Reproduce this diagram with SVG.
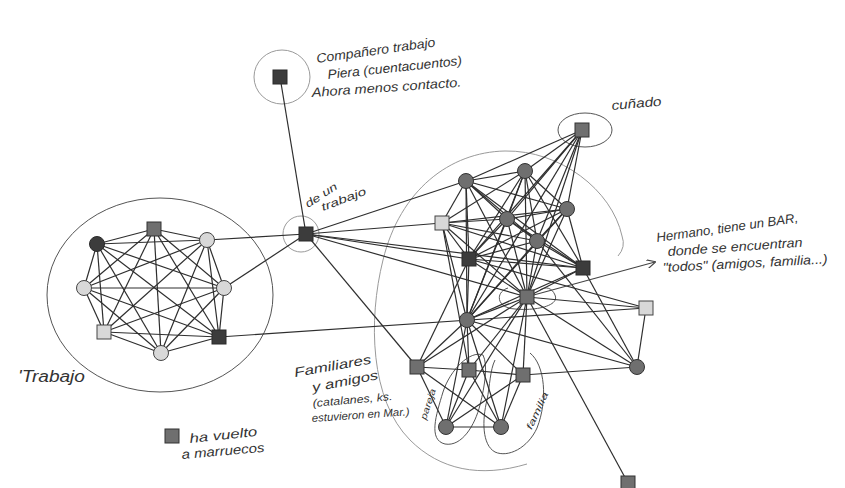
<svg xmlns="http://www.w3.org/2000/svg" width="845" height="488" viewBox="0 0 845 488">
<style>
.e{stroke:#2e2e2e;stroke-width:1.2;fill:none}
.g{stroke:#9a9a9a;stroke-width:1;fill:none}
.p{stroke:#555;stroke-width:1;fill:none}
.dk{fill:#3c3c3c;stroke:#2a2a2a;stroke-width:1}
.md{fill:#6f6f6f;stroke:#333;stroke-width:1}
.lt{fill:#d8d8d8;stroke:#444;stroke-width:1}
text{font-family:"Liberation Sans",Arial,sans-serif;font-style:italic;fill:#333}
</style>
<defs>
<marker id="ah" viewBox="0 0 10 10" refX="9" refY="5" markerWidth="9" markerHeight="9" orient="auto" markerUnits="userSpaceOnUse">
<path d="M0,0 L10,5 L0,10" fill="none" stroke="#444" stroke-width="1.3"/>
</marker>
</defs>
<rect width="845" height="488" fill="#fff"/>

<g id="groups">
<ellipse class="p" cx="160" cy="295" rx="113" ry="97"/>
<ellipse class="g" cx="282" cy="77" rx="28" ry="27"/>
<circle class="g" cx="301" cy="234" r="18"/>
<ellipse class="p" cx="585" cy="130" rx="27" ry="17"/>
<path class="g" d="M618,256 Q626,247 622,236 C612,190 560,150 505,151 C450,152 400,190 383,260 C368,320 370,400 410,440 C440,470 480,478 527,464"/>
<path class="p" d="M508,288 C495,292 496,308 515,309 C535,311 560,306 555,295 C552,288 546,286 540,290"/>
<path class="p" d="M483,355 C470,350 450,370 443,392 C436,415 428,440 445,444 C462,447 475,425 480,405 C485,385 488,365 483,355"/>
<path class="p" d="M530,353 C545,365 548,400 537,428 C528,448 508,458 495,452 C482,445 482,420 487,400 C490,385 490,370 495,360"/>
</g>

<g id="connectors">
<line class="e" x1="97" y1="244" x2="154" y2="229"/>
<line class="e" x1="97" y1="244" x2="207" y2="240"/>
<line class="e" x1="97" y1="244" x2="84" y2="288"/>
<line class="e" x1="97" y1="244" x2="224" y2="288"/>
<line class="e" x1="97" y1="244" x2="104" y2="332"/>
<line class="e" x1="97" y1="244" x2="161" y2="353"/>
<line class="e" x1="97" y1="244" x2="219" y2="337"/>
<line class="e" x1="154" y1="229" x2="207" y2="240"/>
<line class="e" x1="154" y1="229" x2="84" y2="288"/>
<line class="e" x1="154" y1="229" x2="224" y2="288"/>
<line class="e" x1="154" y1="229" x2="104" y2="332"/>
<line class="e" x1="154" y1="229" x2="161" y2="353"/>
<line class="e" x1="154" y1="229" x2="219" y2="337"/>
<line class="e" x1="207" y1="240" x2="84" y2="288"/>
<line class="e" x1="207" y1="240" x2="224" y2="288"/>
<line class="e" x1="207" y1="240" x2="104" y2="332"/>
<line class="e" x1="207" y1="240" x2="161" y2="353"/>
<line class="e" x1="207" y1="240" x2="219" y2="337"/>
<line class="e" x1="84" y1="288" x2="224" y2="288"/>
<line class="e" x1="84" y1="288" x2="104" y2="332"/>
<line class="e" x1="84" y1="288" x2="161" y2="353"/>
<line class="e" x1="84" y1="288" x2="219" y2="337"/>
<line class="e" x1="224" y1="288" x2="104" y2="332"/>
<line class="e" x1="224" y1="288" x2="161" y2="353"/>
<line class="e" x1="224" y1="288" x2="219" y2="337"/>
<line class="e" x1="104" y1="332" x2="161" y2="353"/>
<line class="e" x1="104" y1="332" x2="219" y2="337"/>
<line class="e" x1="161" y1="353" x2="219" y2="337"/>

<line class="e" x1="280" y1="77" x2="306" y2="234"/>
<line class="e" x1="207" y1="240" x2="306" y2="234"/>
<line class="e" x1="224" y1="288" x2="306" y2="234"/>
<line class="e" x1="306" y1="234" x2="466" y2="181"/>
<line class="e" x1="306" y1="234" x2="442" y2="223"/>
<line class="e" x1="306" y1="234" x2="469" y2="259"/>
<line class="e" x1="306" y1="234" x2="583" y2="268"/>
<line class="e" x1="306" y1="234" x2="527" y2="297"/>
<line class="e" x1="306" y1="234" x2="417" y2="367"/>
<line class="e" x1="219" y1="337" x2="646" y2="308"/>

<line class="e" x1="466" y1="181" x2="525" y2="171"/>
<line class="e" x1="466" y1="181" x2="442" y2="223"/>
<line class="e" x1="466" y1="181" x2="507" y2="219"/>
<line class="e" x1="466" y1="181" x2="567" y2="209"/>
<line class="e" x1="466" y1="181" x2="537" y2="241"/>
<line class="e" x1="466" y1="181" x2="469" y2="259"/>
<line class="e" x1="466" y1="181" x2="583" y2="268"/>
<line class="e" x1="466" y1="181" x2="527" y2="297"/>
<line class="e" x1="466" y1="181" x2="467" y2="320"/>
<line class="e" x1="525" y1="171" x2="442" y2="223"/>
<line class="e" x1="525" y1="171" x2="507" y2="219"/>
<line class="e" x1="525" y1="171" x2="567" y2="209"/>
<line class="e" x1="525" y1="171" x2="537" y2="241"/>
<line class="e" x1="525" y1="171" x2="469" y2="259"/>
<line class="e" x1="525" y1="171" x2="583" y2="268"/>
<line class="e" x1="525" y1="171" x2="527" y2="297"/>
<line class="e" x1="525" y1="171" x2="467" y2="320"/>
<line class="e" x1="442" y1="223" x2="507" y2="219"/>
<line class="e" x1="442" y1="223" x2="567" y2="209"/>
<line class="e" x1="442" y1="223" x2="537" y2="241"/>
<line class="e" x1="442" y1="223" x2="469" y2="259"/>
<line class="e" x1="442" y1="223" x2="583" y2="268"/>
<line class="e" x1="442" y1="223" x2="527" y2="297"/>
<line class="e" x1="442" y1="223" x2="467" y2="320"/>
<line class="e" x1="507" y1="219" x2="567" y2="209"/>
<line class="e" x1="507" y1="219" x2="537" y2="241"/>
<line class="e" x1="507" y1="219" x2="469" y2="259"/>
<line class="e" x1="507" y1="219" x2="583" y2="268"/>
<line class="e" x1="507" y1="219" x2="527" y2="297"/>
<line class="e" x1="507" y1="219" x2="467" y2="320"/>
<line class="e" x1="567" y1="209" x2="537" y2="241"/>
<line class="e" x1="567" y1="209" x2="469" y2="259"/>
<line class="e" x1="567" y1="209" x2="583" y2="268"/>
<line class="e" x1="567" y1="209" x2="527" y2="297"/>
<line class="e" x1="567" y1="209" x2="467" y2="320"/>
<line class="e" x1="537" y1="241" x2="469" y2="259"/>
<line class="e" x1="537" y1="241" x2="583" y2="268"/>
<line class="e" x1="537" y1="241" x2="527" y2="297"/>
<line class="e" x1="537" y1="241" x2="467" y2="320"/>
<line class="e" x1="469" y1="259" x2="583" y2="268"/>
<line class="e" x1="469" y1="259" x2="527" y2="297"/>
<line class="e" x1="469" y1="259" x2="467" y2="320"/>
<line class="e" x1="583" y1="268" x2="527" y2="297"/>
<line class="e" x1="583" y1="268" x2="467" y2="320"/>
<line class="e" x1="527" y1="297" x2="467" y2="320"/>

<line class="e" x1="582" y1="130" x2="466" y2="181"/>
<line class="e" x1="582" y1="130" x2="525" y2="171"/>
<line class="e" x1="582" y1="130" x2="507" y2="219"/>
<line class="e" x1="582" y1="130" x2="567" y2="209"/>
<line class="e" x1="582" y1="130" x2="537" y2="241"/>
<line class="e" x1="582" y1="130" x2="469" y2="259"/>
<line class="e" x1="582" y1="130" x2="527" y2="297"/>
<line class="e" x1="582" y1="130" x2="467" y2="320"/>

<line class="e" x1="583" y1="268" x2="637" y2="367"/>
<line class="e" x1="537" y1="241" x2="637" y2="367"/>
<line class="e" x1="469" y1="259" x2="646" y2="308"/>
<line class="e" x1="527" y1="297" x2="646" y2="308"/>
<line class="e" x1="527" y1="297" x2="637" y2="367"/>
<line class="e" x1="527" y1="297" x2="628" y2="483"/>
<line class="e" x1="527" y1="297" x2="417" y2="367"/>
<line class="e" x1="527" y1="297" x2="469" y2="370"/>
<line class="e" x1="527" y1="297" x2="523" y2="375"/>
<line class="e" x1="527" y1="297" x2="446" y2="427"/>
<line class="e" x1="527" y1="297" x2="501" y2="427"/>
<line class="e" x1="467" y1="320" x2="637" y2="367"/>
<line class="e" x1="467" y1="320" x2="417" y2="367"/>
<line class="e" x1="467" y1="320" x2="469" y2="370"/>
<line class="e" x1="467" y1="320" x2="523" y2="375"/>
<line class="e" x1="467" y1="320" x2="446" y2="427"/>
<line class="e" x1="467" y1="320" x2="501" y2="427"/>
<line class="e" x1="646" y1="308" x2="637" y2="367"/>
<line class="e" x1="417" y1="367" x2="469" y2="370"/>
<line class="e" x1="469" y1="370" x2="523" y2="375"/>
<line class="e" x1="523" y1="375" x2="637" y2="367"/>
<line class="e" x1="417" y1="367" x2="446" y2="427"/>
<line class="e" x1="417" y1="367" x2="501" y2="427"/>
<line class="e" x1="469" y1="370" x2="446" y2="427"/>
<line class="e" x1="469" y1="370" x2="501" y2="427"/>
<line class="e" x1="523" y1="375" x2="446" y2="427"/>
<line class="e" x1="523" y1="375" x2="501" y2="427"/>
<line class="e" x1="446" y1="427" x2="501" y2="427"/>
<line class="e" x1="442" y1="223" x2="469" y2="370"/>
<line class="e" x1="469" y1="259" x2="417" y2="367"/>

<line stroke="#444" stroke-width="1.1" x1="530" y1="296" x2="655" y2="262" marker-end="url(#ah)"/>
</g>

<g id="n-A"><circle class="dk" cx="97" cy="244" r="7.5"/></g>
<g id="n-B"><rect class="md" x="147" y="222" width="14" height="14"/></g>
<g id="n-C"><circle class="lt" cx="207" cy="240" r="7.5"/></g>
<g id="n-D"><circle class="lt" cx="84" cy="288" r="7.5"/></g>
<g id="n-E"><circle class="lt" cx="224" cy="288" r="7.5"/></g>
<g id="n-F"><rect class="lt" x="97" y="325" width="14" height="14"/></g>
<g id="n-G"><circle class="lt" cx="161" cy="353" r="7.5"/></g>
<g id="n-H"><rect class="dk" x="212" y="330" width="14" height="14"/></g>

<g id="n-top"><rect class="dk" x="273" y="70" width="14" height="14"/></g>
<g id="n-hub"><rect class="dk" x="299" y="227" width="14" height="14"/></g>
<g id="n-cunado"><rect class="md" x="575" y="123" width="14" height="14"/></g>

<g id="n-R1"><circle class="md" cx="466" cy="181" r="7.5"/></g>
<g id="n-R2"><circle class="md" cx="525" cy="171" r="7.5"/></g>
<g id="n-R3"><rect class="lt" x="435" y="216" width="14" height="14"/></g>
<g id="n-R4"><circle class="md" cx="507" cy="219" r="7.5"/></g>
<g id="n-R5"><circle class="md" cx="567" cy="209" r="7.5"/></g>
<g id="n-R6"><circle class="md" cx="537" cy="241" r="7.5"/></g>
<g id="n-R7"><rect class="dk" x="462" y="252" width="14" height="14"/></g>
<g id="n-R8"><rect class="dk" x="576" y="261" width="14" height="14"/></g>
<g id="n-R9"><rect class="md" x="520" y="290" width="14" height="14"/></g>
<g id="n-R10"><circle class="md" cx="467" cy="320" r="7.5"/></g>
<g id="n-R11"><rect class="lt" x="639" y="301" width="14" height="14"/></g>
<g id="n-R12"><circle class="md" cx="637" cy="367" r="7.5"/></g>
<g id="n-R13"><rect class="md" x="410" y="360" width="14" height="14"/></g>
<g id="n-R14"><rect class="md" x="462" y="363" width="14" height="14"/></g>
<g id="n-R15"><rect class="md" x="516" y="368" width="14" height="14"/></g>
<g id="n-R16"><circle class="md" cx="446" cy="427" r="7.5"/></g>
<g id="n-R17"><circle class="md" cx="501" cy="427" r="7.5"/></g>
<g id="n-bottom"><rect class="md" x="621" y="476" width="14" height="14"/></g>
<g id="legend-square"><rect class="md" x="165" y="429" width="14" height="14"/></g>

<g id="labels">
<text x="317" y="63" font-size="13" textLength="120" lengthAdjust="spacingAndGlyphs" transform="rotate(-8 317 63)">Compañero trabajo</text>
<text x="328" y="79" font-size="13" textLength="135" lengthAdjust="spacingAndGlyphs" transform="rotate(-6 328 79)">Piera (cuentacuentos)</text>
<text x="312" y="97" font-size="13" textLength="150" lengthAdjust="spacingAndGlyphs" transform="rotate(-4 312 97)">Ahora menos contacto.</text>
<text x="612" y="110" font-size="13" textLength="50" lengthAdjust="spacingAndGlyphs" transform="rotate(-5 612 110)">cuñado</text>
<text x="308" y="208" font-size="11" textLength="36" lengthAdjust="spacingAndGlyphs" transform="rotate(-33 308 208)">de un</text>
<text x="323" y="211" font-size="11" textLength="47" lengthAdjust="spacingAndGlyphs" transform="rotate(-21 323 211)">trabajo</text>
<text x="657" y="242" font-size="13" textLength="143" lengthAdjust="spacingAndGlyphs" transform="rotate(-8 657 242)">Hermano, tiene un BAR,</text>
<text x="668" y="256" font-size="13" textLength="135" lengthAdjust="spacingAndGlyphs" transform="rotate(-4 668 256)">donde se encuentran</text>
<text x="663" y="272" font-size="13" textLength="165" lengthAdjust="spacingAndGlyphs" transform="rotate(-3 663 272)">"todos" (amigos, familia...)</text>
<text x="18" y="382" font-size="16" textLength="67" lengthAdjust="spacingAndGlyphs">'Trabajo</text>
<text x="295" y="377" font-size="13" textLength="78" lengthAdjust="spacingAndGlyphs" transform="rotate(-10 295 377)">Familiares</text>
<text x="313" y="392" font-size="13" textLength="67" lengthAdjust="spacingAndGlyphs" transform="rotate(-11 313 392)">y amigos</text>
<text x="313" y="407" font-size="11" textLength="80" lengthAdjust="spacingAndGlyphs" transform="rotate(-5 313 407)">(catalanes, ks.</text>
<text x="312" y="422" font-size="11" textLength="98" lengthAdjust="spacingAndGlyphs" transform="rotate(-4 312 422)">estuvieron en Mar.)</text>
<text x="431" y="405" font-size="9" text-anchor="middle" textLength="32" lengthAdjust="spacingAndGlyphs" transform="rotate(-72 431 405)">pareja</text>
<text x="540" y="412" font-size="9" text-anchor="middle" textLength="40" lengthAdjust="spacingAndGlyphs" transform="rotate(-65 540 412)">familia</text>
<text x="190" y="443" font-size="13" textLength="68" lengthAdjust="spacingAndGlyphs" transform="rotate(-6 190 443)">ha vuelto</text>
<text x="182" y="459" font-size="13" textLength="83" lengthAdjust="spacingAndGlyphs" transform="rotate(-5 182 459)">a marruecos</text>
</g>
</svg>
